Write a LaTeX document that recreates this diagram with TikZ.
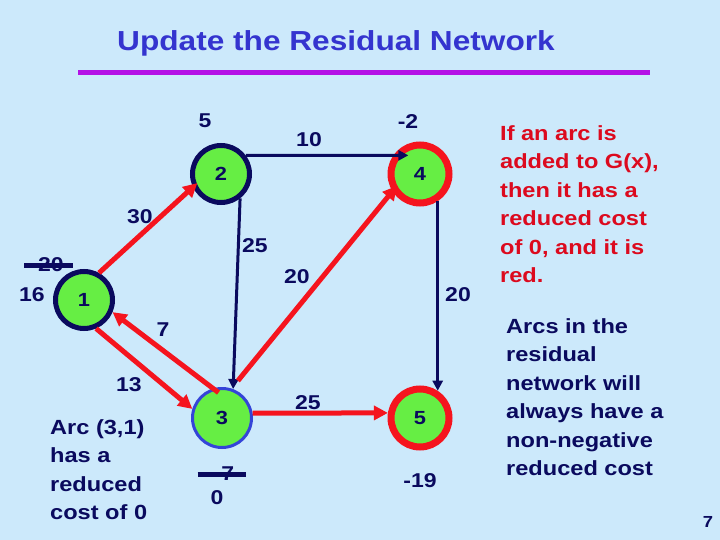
\documentclass[tikz,border=0pt]{standalone}
\usepackage{fontspec}
\setmainfont[FakeStretch=1.15]{Liberation Sans}
\usetikzlibrary{arrows.meta}
\definecolor{bg}{HTML}{CCE9FB}
\definecolor{titleblue}{HTML}{3434CF}
\definecolor{rulemag}{HTML}{B412E6}
\definecolor{navy}{HTML}{0A0A5E}
\definecolor{arcred}{HTML}{F5141E}
\definecolor{txtred}{HTML}{DC0A1E}
\definecolor{ngreen}{HTML}{66EE44}
\definecolor{nblue}{HTML}{3444D8}
\begin{document}
\begin{tikzpicture}[x=1pt,y=-1pt,
  vnode/.style={circle, fill=ngreen, inner sep=0pt, text=navy,
    font=\fontsize{19}{19}\selectfont\bfseries},
  blackring/.style={vnode, draw=navy, line width=5pt, minimum size=57pt},
  bluering/.style={vnode, draw=nblue, line width=3pt, minimum size=59pt},
  redring/.style={vnode, draw=arcred, line width=7pt, minimum size=58pt},
  lbl/.style={text=navy, inner sep=0pt, font=\fontsize{20}{20}\selectfont\bfseries},
  para/.style={inner sep=0pt, align=left, anchor=north west,
    font=\fontsize{20.5}{28.5}\selectfont\bfseries},
  redarc/.style={draw=arcred, line width=5pt, -{Triangle[length=14pt,width=14pt]}},
  navyarc/.style={draw=navy, line width=3pt, -{Triangle[length=10pt,width=10pt]}},
  strike/.style={draw=navy, line width=5pt}]
\useasboundingbox (0,0) rectangle (720,540);
\fill[bg] (0,0) rectangle (720,540);

% title
\node[text=titleblue, inner sep=0pt, anchor=base,
  font=\fontsize{27.5}{27.5}\selectfont\bfseries] (title) at (336,51) {Update the Residual Network};
\coordinate (rl) at (78,72.3);
\coordinate (rr) at (650,72.3);
\draw[rulemag, line width=5pt] (rl) -- (rr);

% nodes
\node[blackring] (n1) at (84,300) {1};
\node[blackring] (n2) at (221,174) {2};
\node[redring]   (n4) at (420,174) {4};
\node[bluering]  (n3) at (222,418) {3};
\node[redring]   (n5) at (420,418) {5};

% arcs
\draw[redarc, shorten >=-6pt] (n1.61) -- (n2.205);
\draw[navyarc, shorten >=-15pt] (n2.37) -- (n4.145);
\draw[navyarc] (n2.-52) -- (n3.69);
\draw[redarc, shorten <=10pt, shorten >=-7pt] (n3.72) -- (n4.212);
\draw[navyarc] (n4.-57) -- (n5.57);
\draw[redarc] (n3.9) -- (n5.171);
\draw[redarc] (n1.-67) -- (n3.163);
\draw[redarc, shorten <=-7pt] (n3.107) -- (n1.-23);

% labels
\node[lbl] (p2) at (205,121) {5};
\node[lbl] (p4) at (408,122) {-2};
\node[lbl] (c24) at (309,140) {10};
\node[lbl] (c12) at (140,217) {30};
\node[lbl] (c23) at (255,246) {25};
\node[lbl] (c34) at (297,277) {20};
\node[lbl] (c45) at (458,295) {20};
\node[lbl] (c31) at (163,330) {7};
\node[lbl] (c13) at (129,385) {13};
\node[lbl] (c35) at (308,403) {25};
\node[lbl] (p5) at (420,481) {-19};
\node[lbl] (p1old) at (51,265) {20};
\draw[strike] ([xshift=-14pt]p1old.west) -- ([xshift=9pt]p1old.east);
\node[lbl] (p1) at (32,295) {16};
\node[lbl] (p3old) at (224,474) {-7};
\draw[strike] ([xshift=-16pt]p3old.west) -- ([xshift=12pt]p3old.east);
\node[lbl] (p3) at (217,498) {0};

% texts
\node[para, text=navy] (arcnote) at (50,419) {Arc (3,1)\\has a\\reduced\\cost of 0};
\node[para, text=txtred] (rednote) at (500,125) {If an arc is\\added to G(x),\\then it has a\\reduced cost\\of 0, and it is\\red.};
\node[para, text=navy] (navynote) at (506,318) {Arcs in the\\residual\\network will\\always have a\\non-negative\\reduced cost};
\node[text=navy, inner sep=0pt, font=\fontsize{16}{16}\selectfont\bfseries] (pg) at (708,522) {7};
\end{tikzpicture}
\end{document}
